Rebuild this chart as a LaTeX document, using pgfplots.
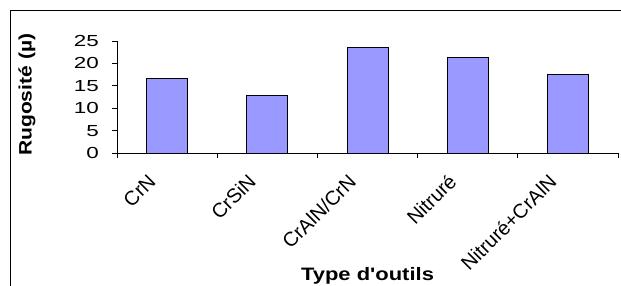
\documentclass[border=0pt]{standalone}
\usepackage{pgfplots}
\pgfplotsset{compat=1.18}
\usepackage{fontspec}
\setmainfont{Liberation Sans}
\newfontfamily\tickfont[FakeStretch=1.4]{Liberation Sans}
\newfontfamily\xlabfont[FakeStretch=1.22]{Liberation Sans}
\newfontfamily\ylabfont[FakeStretch=1.17]{Liberation Sans}
\definecolor{barblue}{HTML}{9999FF}
\begin{document}
\begin{tikzpicture}[x=1pt,y=1pt]
\useasboundingbox (0,0) rectangle (621,-285);
\clip (0,0) rectangle (621,-285);
\draw[line width=1pt] (10,-10) rectangle (700,-400);
\begin{axis}[
  at={(117pt,-153pt)}, anchor=south west,
  scale only axis, width=501pt, height=112pt,
  xmin=-0.5, xmax=4.5, ymin=0, ymax=25,
  axis lines=left, axis line style={-, black, line width=0.8pt},
  ytick={0,5,...,25},
  xtick={0,1,2,3,4},
  xticklabels={CrN,CrSiN,CrAlN/CrN,Nitruré,Nitruré+CrAlN},
  minor xtick={-0.5,0.5,1.5,2.5,3.5,4.5},
  tick align=outside,
  major tick length=5pt, minor tick length=5pt,
  y tick style={black, line width=0.8pt},
  xtick style={draw=none},
  minor x tick style={draw=black, line width=0.8pt},
  /pgf/number format/assume math mode=true,
  yticklabel style={font=\tickfont\fontsize{16}{18}\selectfont, anchor=east, inner sep=0pt, xshift=-13pt},
  xticklabel style={font=\fontsize{20}{22}\selectfont, inner sep=0pt, xshift=-15pt, yshift=-20pt, anchor=east, rotate=45},
  xlabel={Type d'outils},
  xlabel style={font=\xlabfont\bfseries\fontsize{18}{20}\selectfont, at={(axis description cs:0.5,-1.134)}, anchor=base},
  ylabel={Rugosité (µ)},
  ylabel style={font=\ylabfont\bfseries\fontsize{18}{20}\selectfont, at={(axis description cs:-0.1796,0.52)}, anchor=center},
  clip=false,
]
\addplot[ybar, bar width=41pt, bar shift=0pt, fill=barblue, draw=black, line width=1pt]
  coordinates {(0,16.7) (1,12.9) (2,23.5) (3,21.4) (4,17.6)};
\end{axis}
\end{tikzpicture}
\end{document}
